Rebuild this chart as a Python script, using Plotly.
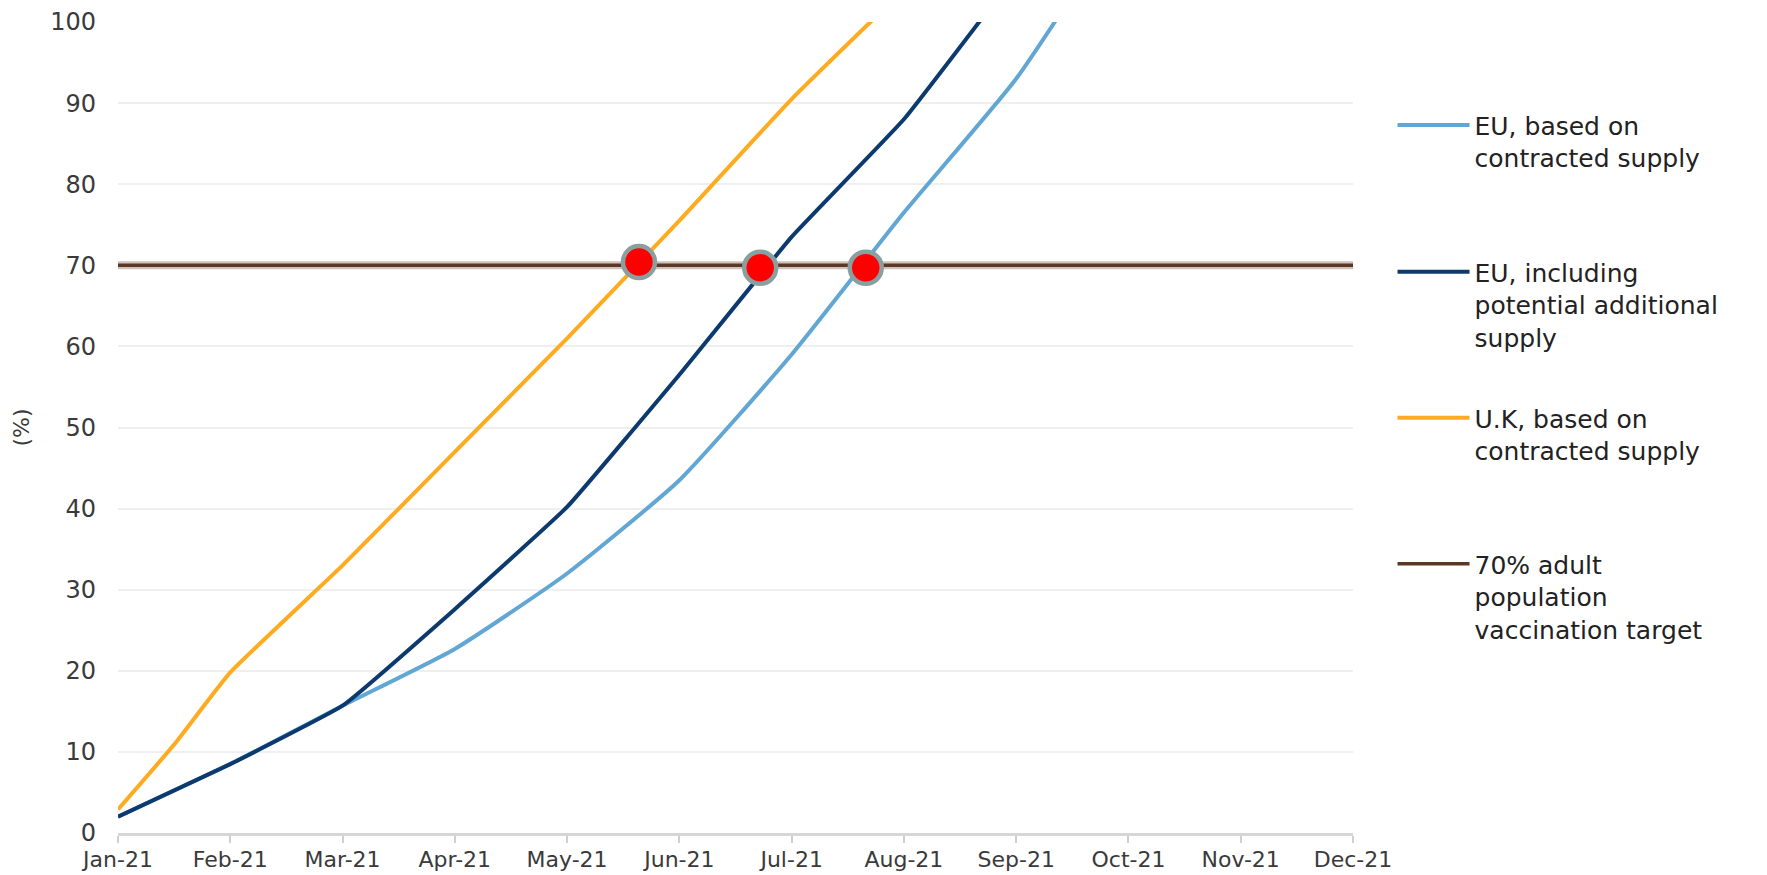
import plotly.graph_objects as go

# Month axis (positions 0..11 = Jan-21..Dec-21)
month_labels = ["Jan-21", "Feb-21", "Mar-21", "Apr-21", "May-21", "Jun-21",
                "Jul-21", "Aug-21", "Sep-21", "Oct-21", "Nov-21", "Dec-21"]
month_pos = list(range(len(month_labels)))

# Share of adult population vaccinated (%)
eu_contracted_x = [0, 1, 2, 3, 4, 5, 6, 7, 8, 9]
eu_contracted_y = [2.0, 8.5, 15.7, 22.7, 32.0, 43.5, 59.0, 76.5, 93.0, 114.0]

eu_potential_x = [0, 1, 2, 3, 4, 5, 6, 7, 8]
eu_potential_y = [2.0, 8.5, 15.7, 27.6, 40.2, 56.5, 73.5, 88.0, 106.0]

uk_x = [0, 0.5, 1, 2, 3, 4, 5, 6, 7]
uk_y = [2.9, 10.9, 19.8, 33.0, 47.0, 61.0, 75.5, 90.5, 104.0]

target_x = month_pos
target_y = [70] * len(month_pos)

# Points where each curve reaches the 70% target
hit_x = [4.64, 5.72, 6.66]
hit_y = [70.4, 69.7, 69.7]

FONT = "DejaVu Sans"

fig = go.Figure()

fig.add_trace(go.Scatter(
    x=eu_contracted_x, y=eu_contracted_y, mode="lines",
    name="EU, based on<br>contracted supply",
    line=dict(color="#62a7d4", width=4, shape="spline", smoothing=0.5),
    legend="legend",
))
fig.add_trace(go.Scatter(
    x=eu_potential_x, y=eu_potential_y, mode="lines",
    name="EU, including<br>potential additional<br>supply",
    line=dict(color="#0c3a6e", width=4, shape="spline", smoothing=0.3),
    legend="legend2",
))
fig.add_trace(go.Scatter(
    x=uk_x, y=uk_y, mode="lines",
    name="U.K, based on<br>contracted supply",
    line=dict(color="#ffab1f", width=4, shape="spline", smoothing=0.4),
    legend="legend3",
))
# soft halo under the target line
fig.add_trace(go.Scatter(
    x=target_x, y=target_y, mode="lines", showlegend=False, hoverinfo="skip",
    line=dict(color="#cfc2ba", width=8),
))
fig.add_trace(go.Scatter(
    x=target_x, y=target_y, mode="lines",
    name="70% adult<br>population<br>vaccination target",
    line=dict(color="#5a3825", width=3.5), legend="legend4",
))
fig.add_trace(go.Scatter(
    x=hit_x, y=hit_y, mode="markers", showlegend=False,
    marker=dict(color="#ff0000", size=32, line=dict(color="#8aa0a0", width=4.5)),
))

legend_style = dict(
    xanchor="left", yanchor="top", x=1.032,
    font=dict(family=FONT, size=25, color="#222222"),
    bgcolor="rgba(0,0,0,0)", valign="top", itemwidth=72,
)

# the page body adds an 8px offset, so margins are shifted to compensate
fig.update_layout(
    width=1767, height=875,
    margin=dict(l=110, r=422, t=14, b=50),
    paper_bgcolor="white", plot_bgcolor="white",
    font=dict(family=FONT, size=25, color="#3a3a3a"),
    legend=dict(legend_style, y=0.901),
    legend2=dict(legend_style, y=0.720),
    legend3=dict(legend_style, y=0.540),
    legend4=dict(legend_style, y=0.360),
    xaxis=dict(
        range=[0, 11], tickmode="array", tickvals=month_pos, ticktext=month_labels,
        showgrid=False, zeroline=False, automargin=False,
        showline=True, linecolor="#d6d6d6", linewidth=3,
        ticks="outside", ticklen=7, tickwidth=2, tickcolor="#d0d0d0",
        ticklabelstandoff=-2, ticklabeloverflow="allow",
        tickfont=dict(family=FONT, size=22, color="#3a3a3a"),
    ),
    yaxis=dict(
        range=[0, 100], dtick=10, showgrid=True, gridcolor="#efefef", gridwidth=2,
        zeroline=False, showline=False, ticks="", ticklabelstandoff=21,
        automargin=False, ticklabeloverflow="allow",
        tickfont=dict(family=FONT, size=24, color="#3a3a3a"),
        title=dict(text="(%)", font=dict(family=FONT, size=22, color="#3a3a3a"),
                   standoff=14),
    ),
)

fig.write_html("out.html")
